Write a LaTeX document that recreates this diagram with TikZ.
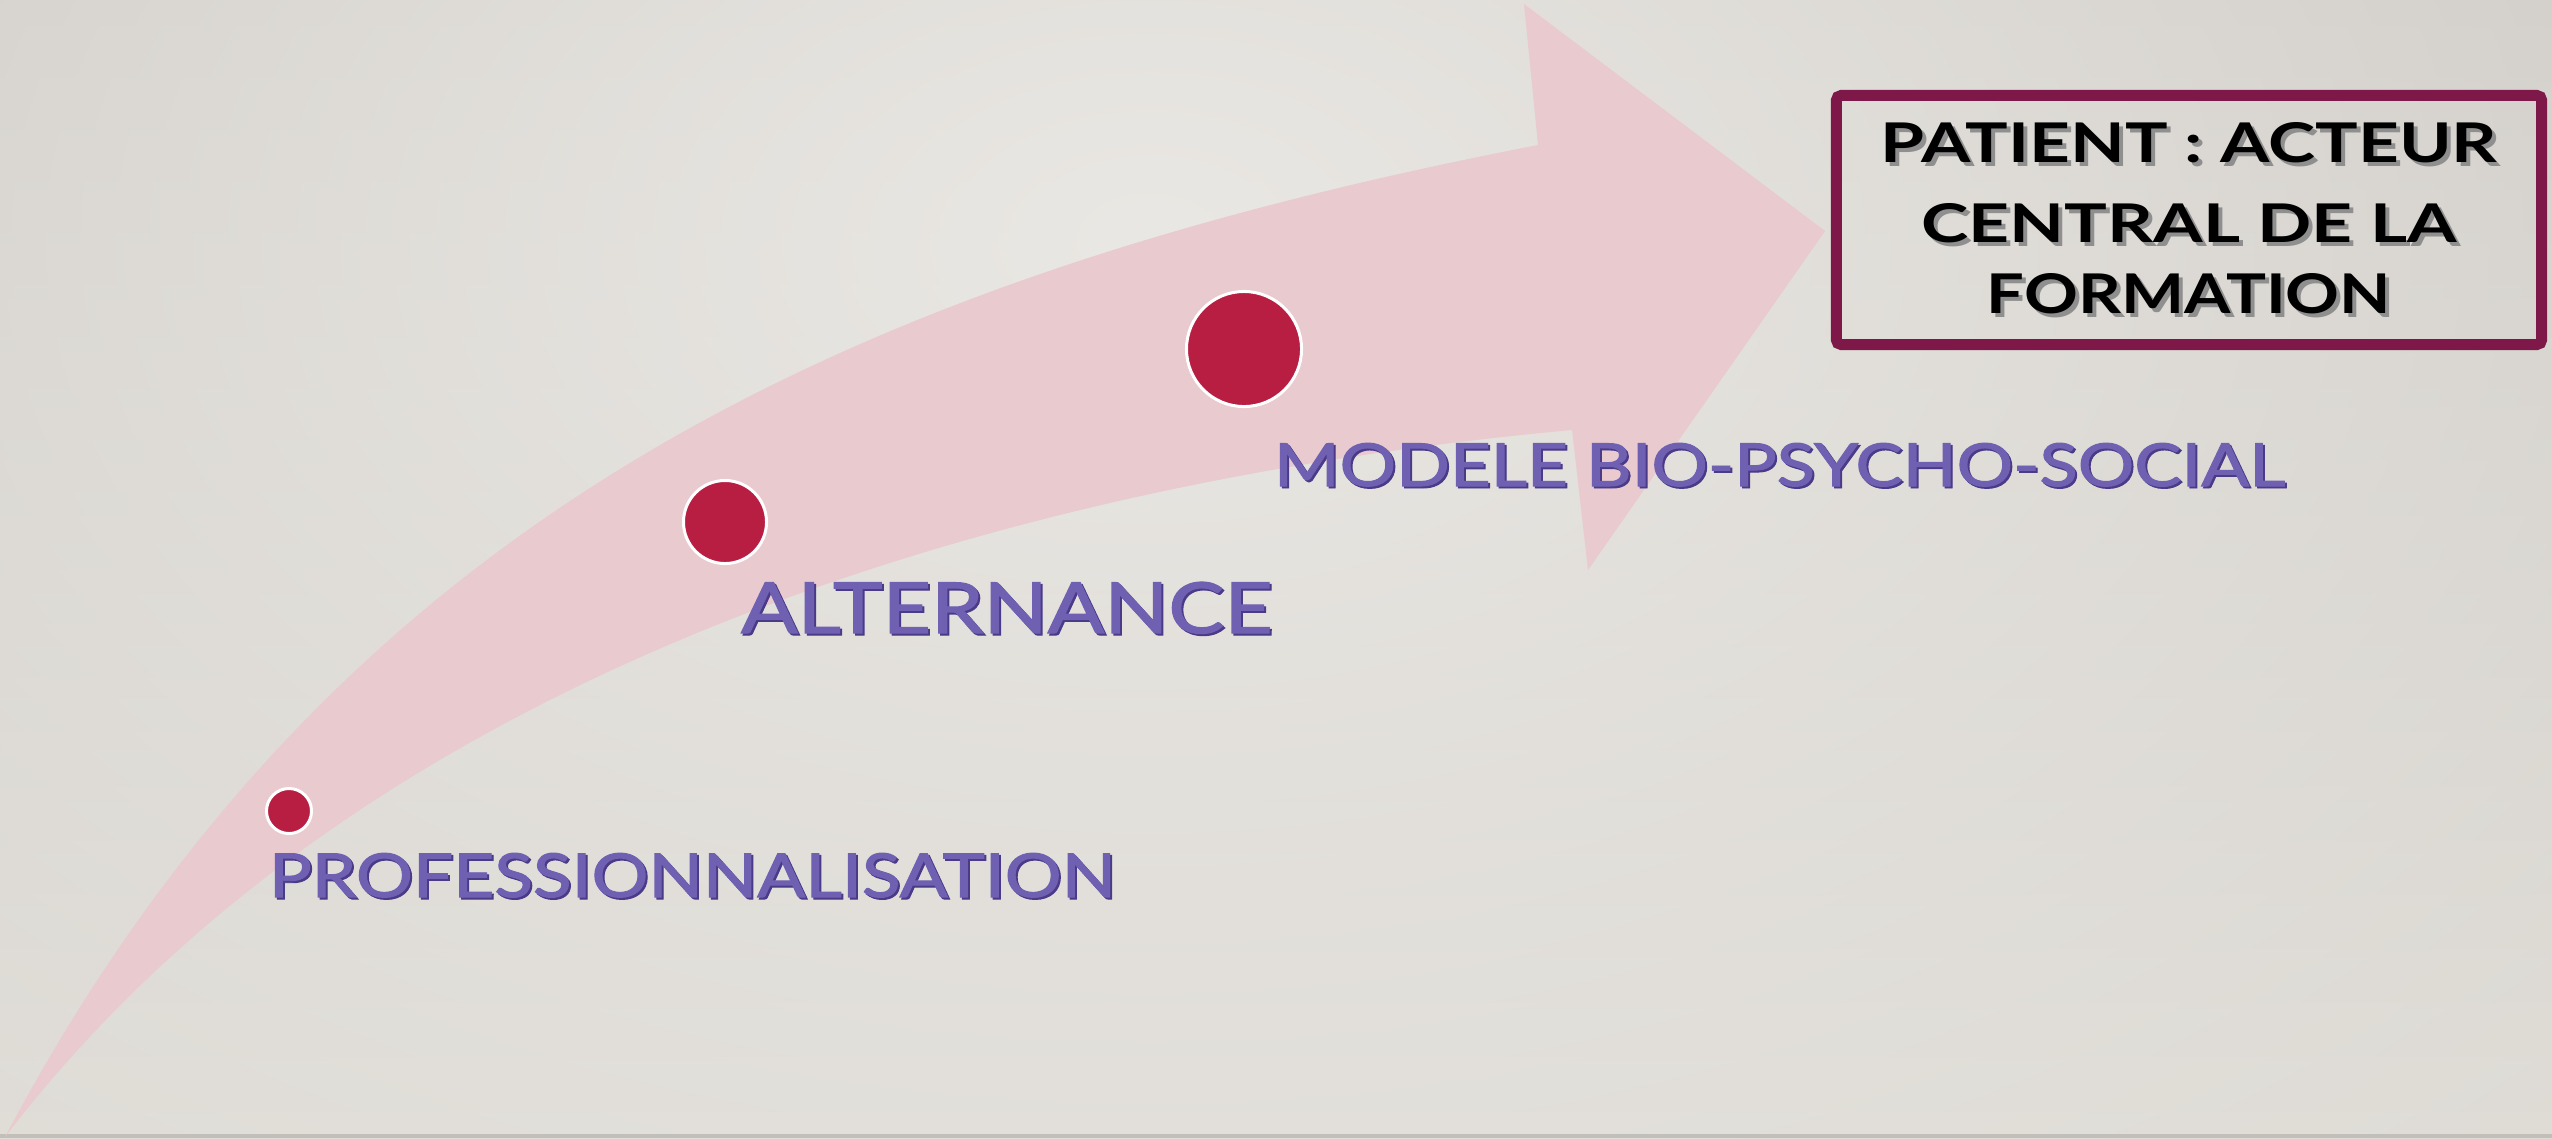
\documentclass[tikz,border=0pt]{standalone}
\usepackage{fontspec}
\setmainfont{Lato}
\newfontfamily\purpfont{Lato}[FakeBold=1.6]
\usepackage{graphicx}
\usetikzlibrary{fadings}
\definecolor{bgTop}{HTML}{C9C5C0}
\definecolor{bgBot}{HTML}{DEDBD5}
\definecolor{spotc}{HTML}{EAE8E4}
\definecolor{arrowpink}{HTML}{E8CACF}
\definecolor{dotred}{HTML}{B81E42}
\definecolor{boxc}{HTML}{7E1849}
\definecolor{purp}{HTML}{7060B2}
\definecolor{purpD}{HTML}{4A3A88}
\definecolor{shadowgray}{HTML}{8F8F8F}
\definecolor{edgegray}{HTML}{C2BFBA}
\tikzfading[name=spotfade, inner color=transparent!0, outer color=transparent!100]
\newcommand{\fitt}[3]{\resizebox{#1}{#2}{\bfseries #3}}
\newcommand{\fitp}[3]{\resizebox{#1}{#2}{\purpfont #3}}
\begin{document}
\begin{tikzpicture}[x=0.01cm, y=-0.01cm,
  lbl/.style={inner sep=0pt, outer sep=0pt, anchor=base west},
  ctr/.style={inner sep=0pt, outer sep=0pt, anchor=base},
  reddot/.style={circle, fill=dotred, draw=white, line width=0.03cm, inner sep=0pt, minimum size=#1}]
\useasboundingbox (0,0) rectangle (2552,1138);
% background
\begin{scope}
\clip (0,0) rectangle (2552,1138);
\shade[top color=bgTop, bottom color=bgBot] (0,0) rectangle (2552,1138);
\fill[spotc, path fading=spotfade] (1150,240) ellipse [x radius=2200, y radius=1400];
\fill[edgegray] (0,1134) rectangle (2552,1138);
\end{scope}
% curved arrow
\coordinate (tail) at (5,1137);
\coordinate (hi) at (1538,145);
\coordinate (htop) at (1524,4);
\coordinate (htip) at (1825,231);
\coordinate (hbot) at (1588,570);
\coordinate (lo) at (1572,430);
\fill[arrowpink] (tail) .. controls (333,518) and (851,278) .. (hi)
  -- (htop) -- (htip) -- (hbot) -- (lo)
  .. controls (1024,480) and (369,661) .. (tail) -- cycle;
% dots
\node[reddot=0.45cm] (d1) at (289,811) {};
\node[reddot=0.83cm] (d2) at (725,522) {};
\node[reddot=1.15cm] (d3) at (1244,349) {};
% purple labels
\node[lbl, text=purpD] (t1s) at (271,899) {\fitp{8.46cm}{0.44cm}{PROFESSIONNALISATION}};
\node[lbl, text=purp] (t1) at (269,897) {\fitp{8.46cm}{0.44cm}{PROFESSIONNALISATION}};
\node[lbl, text=purpD] (t2s) at (743,635) {\fitp{5.31cm}{0.51cm}{ALTERNANCE}};
\node[lbl, text=purp] (t2) at (741,633) {\fitp{5.31cm}{0.51cm}{ALTERNANCE}};
\node[lbl, text=purpD] (t3s) at (1276,488) {\fitp{10.10cm}{0.43cm}{MODELE BIO-PSYCHO-SOCIAL}};
\node[lbl, text=purp] (t3) at (1274,486) {\fitp{10.10cm}{0.43cm}{MODELE BIO-PSYCHO-SOCIAL}};
% box
\node[draw=boxc, line width=0.11cm, rounded corners=0.05cm, minimum width=7.05cm, minimum height=2.49cm, inner sep=0pt] (box) at (2189,220) {};
\node[ctr, text=shadowgray] (b1s) at (2193,166) {\fitt{6.16cm}{0.40cm}{PATIENT : ACTEUR}};
\node[ctr, text=black] (b1) at (2189,162) {\fitt{6.16cm}{0.40cm}{PATIENT : ACTEUR}};
\node[ctr, text=shadowgray] (b2s) at (2193,246) {\fitt{5.35cm}{0.39cm}{CENTRAL DE LA}};
\node[ctr, text=black] (b2) at (2189,242) {\fitt{5.35cm}{0.39cm}{CENTRAL DE LA}};
\node[ctr, text=shadowgray] (b3s) at (2193,317) {\fitt{4.04cm}{0.40cm}{FORMATION}};
\node[ctr, text=black] (b3) at (2189,313) {\fitt{4.04cm}{0.40cm}{FORMATION}};
\end{tikzpicture}
\end{document}
